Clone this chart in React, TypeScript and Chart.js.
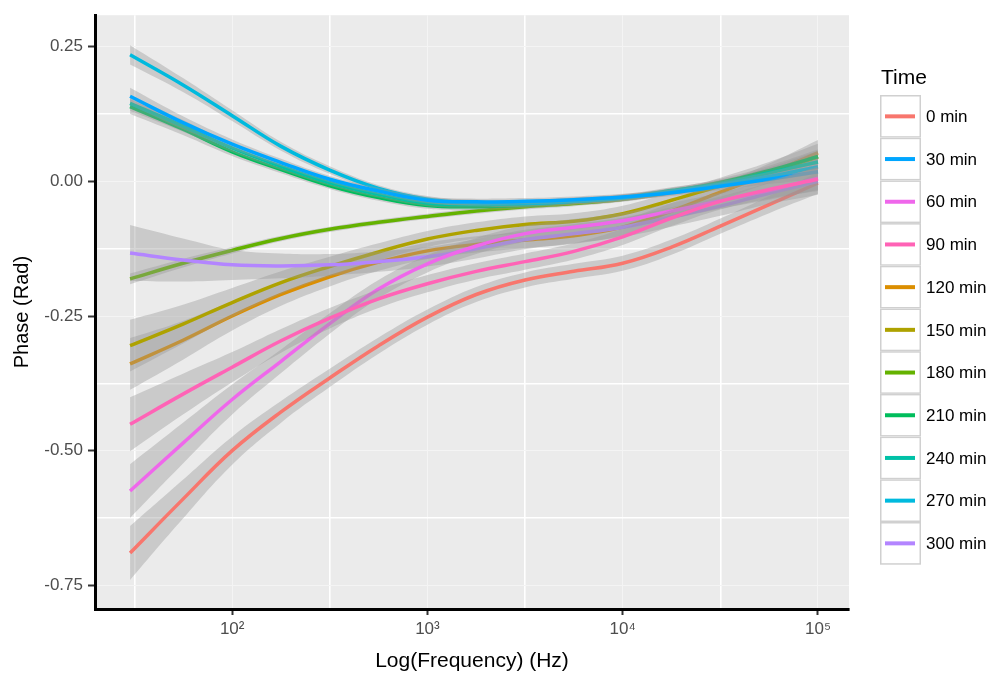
import React, { useEffect, useRef } from 'react';
import { Chart, registerables } from 'chart.js';

Chart.register(...registerables);

// ---- data ----
const freqHz = [30, 56, 100, 178, 316, 562, 1000, 1778, 3162, 5623, 10000, 17783, 31623, 56234, 100000];

const timeLabels = ['0 min', '30 min', '60 min', '90 min', '120 min', '150 min', '180 min', '210 min', '240 min', '270 min', '300 min'];
const seriesColors = ['#F8766D', '#00A6FF', '#EF67EB', '#FF63B6', '#DB8E00', '#AEA200', '#64B200', '#00BD5C', '#00C1A7', '#00BADE', '#B385FF'];
// ggplot draws groups in factor (alphabetical) order
const drawOrder = ['0 min', '120 min', '150 min', '180 min', '210 min', '240 min', '270 min', '30 min', '300 min', '60 min', '90 min'];

const phase0 = [-0.690, -0.590, -0.500, -0.428, -0.365, -0.305, -0.252, -0.210, -0.183, -0.167, -0.152, -0.122, -0.083, -0.043, -0.003];
const phase30 = [0.158, 0.109, 0.069, 0.035, 0.004, -0.018, -0.035, -0.038, -0.037, -0.034, -0.029, -0.021, -0.009, 0.004, 0.018];
const phase60 = [-0.575, -0.486, -0.405, -0.334, -0.264, -0.200, -0.153, -0.120, -0.097, -0.085, -0.073, -0.055, -0.036, -0.017, 0.006];
const phase90 = [-0.451, -0.395, -0.345, -0.296, -0.254, -0.218, -0.190, -0.167, -0.149, -0.130, -0.103, -0.068, -0.037, -0.015, 0.004];
const phase120 = [-0.339, -0.295, -0.250, -0.210, -0.177, -0.150, -0.129, -0.117, -0.109, -0.101, -0.085, -0.055, -0.020, 0.015, 0.053];
const phase150 = [-0.305, -0.265, -0.225, -0.188, -0.158, -0.131, -0.107, -0.091, -0.080, -0.074, -0.060, -0.035, -0.008, 0.018, 0.046];
const phase180 = [-0.181, -0.152, -0.128, -0.106, -0.089, -0.076, -0.065, -0.055, -0.047, -0.041, -0.033, -0.020, -0.004, 0.018, 0.045];
const phase210 = [0.139, 0.097, 0.055, 0.022, -0.008, -0.030, -0.045, -0.047, -0.044, -0.038, -0.031, -0.018, -0.002, 0.020, 0.046];
const phase240 = [0.145, 0.103, 0.062, 0.028, -0.002, -0.024, -0.040, -0.043, -0.041, -0.036, -0.030, -0.017, -0.004, 0.016, 0.036];
const phase270 = [0.235, 0.179, 0.122, 0.065, 0.021, -0.013, -0.033, -0.040, -0.041, -0.037, -0.031, -0.019, -0.006, 0.009, 0.027];
const phase300 = [-0.133, -0.146, -0.155, -0.157, -0.155, -0.149, -0.140, -0.125, -0.108, -0.097, -0.085, -0.066, -0.046, -0.022, 0.000];

// half-widths of the grey confidence ribbons
const band0 = [0.050, 0.036, 0.026, 0.020, 0.017, 0.015, 0.014, 0.014, 0.014, 0.014, 0.014, 0.014, 0.014, 0.016, 0.020];
const band30 = [0.016, 0.012, 0.009, 0.007, 0.006, 0.006, 0.006, 0.006, 0.006, 0.006, 0.006, 0.006, 0.007, 0.009, 0.013];
const band60 = [0.050, 0.038, 0.028, 0.022, 0.019, 0.017, 0.016, 0.015, 0.015, 0.015, 0.015, 0.015, 0.015, 0.017, 0.022];
const band90 = [0.050, 0.038, 0.028, 0.022, 0.019, 0.017, 0.016, 0.015, 0.015, 0.015, 0.015, 0.015, 0.015, 0.017, 0.022];
const band120 = [0.048, 0.036, 0.027, 0.021, 0.018, 0.016, 0.015, 0.015, 0.015, 0.015, 0.015, 0.015, 0.015, 0.018, 0.024];
const band150 = [0.048, 0.036, 0.027, 0.021, 0.018, 0.016, 0.015, 0.015, 0.015, 0.015, 0.015, 0.015, 0.015, 0.018, 0.024];
const band180 = [0.010, 0.008, 0.006, 0.005, 0.005, 0.005, 0.005, 0.005, 0.005, 0.005, 0.005, 0.005, 0.006, 0.008, 0.012];
const band210 = [0.014, 0.011, 0.008, 0.007, 0.006, 0.006, 0.006, 0.006, 0.006, 0.006, 0.006, 0.006, 0.007, 0.009, 0.013];
const band240 = [0.014, 0.011, 0.008, 0.007, 0.006, 0.006, 0.006, 0.006, 0.006, 0.006, 0.006, 0.006, 0.007, 0.009, 0.013];
const band270 = [0.018, 0.013, 0.010, 0.008, 0.007, 0.006, 0.006, 0.006, 0.006, 0.006, 0.006, 0.006, 0.007, 0.009, 0.013];
const band300 = [0.052, 0.040, 0.028, 0.023, 0.020, 0.019, 0.018, 0.018, 0.018, 0.018, 0.018, 0.018, 0.018, 0.020, 0.025];

const phaseSeries = [phase0, phase30, phase60, phase90, phase120, phase150, phase180, phase210, phase240, phase270, phase300];
const bandSeries = [band0, band30, band60, band90, band120, band150, band180, band210, band240, band270, band300];

const xTickValues = [31.6228, 100, 316.228, 1000, 3162.28, 10000, 31622.8, 100000];
const xTickLabels = ['', '10²', '', '10³', '', '10⁴', '', '10⁵'];
const yTickValues = [-0.75, -0.625, -0.5, -0.375, -0.25, -0.125, 0, 0.125, 0.25];
const yTickLabels = ['-0.75', '', '-0.50', '', '-0.25', '', '0.00', '', '0.25'];

const xTitle = 'Log(Frequency) (Hz)';
const yTitle = 'Phase (Rad)';
const legendTitle = 'Time';

const FONT = "'Liberation Sans', Arial, sans-serif";

const panelPlugin = {
  id: 'panelBg',
  beforeDraw(chart: any) {
    const { ctx, chartArea } = chart;
    ctx.save();
    ctx.fillStyle = '#EBEBEB';
    ctx.fillRect(chartArea.left, chartArea.top, chartArea.right - chartArea.left, chartArea.bottom - chartArea.top);
    ctx.restore();
  },
};

const legendPlugin = {
  id: 'ggLegend',
  afterDraw(chart: any) {
    const ctx = chart.ctx;
    ctx.save();
    ctx.fillStyle = '#000000';
    ctx.font = `21px ${FONT}`;
    ctx.textBaseline = 'alphabetic';
    ctx.textAlign = 'left';
    ctx.fillText(legendTitle, 881, 84);
    const top = 95;
    const h = 42.7;
    timeLabels.forEach((lab, i) => {
      const y0 = top + i * h;
      ctx.fillStyle = '#FFFFFF';
      ctx.fillRect(880, y0, 41, h);
      ctx.strokeStyle = '#D0D0D0';
      ctx.lineWidth = 1.5;
      ctx.strokeRect(880.75, y0 + 0.75, 39.5, h - 1.5);
      const cy = y0 + h / 2;
      ctx.strokeStyle = seriesColors[i];
      ctx.lineWidth = 4;
      ctx.beginPath();
      ctx.moveTo(885, cy);
      ctx.lineTo(915, cy);
      ctx.stroke();
      ctx.fillStyle = '#000000';
      ctx.font = `17px ${FONT}`;
      ctx.textBaseline = 'middle';
      ctx.fillText(lab, 926, cy + 1);
    });
    ctx.restore();
  },
};

function buildDatasets() {
  const ds: any[] = [];
  const n = drawOrder.length;
  drawOrder.forEach((label, k) => {
    const i = timeLabels.indexOf(label);
    const vals = phaseSeries[i];
    const se = bandSeries[i];
    const order = (n - k) * 10;
    const common = { pointRadius: 0, tension: 0.4 };
    ds.push({
      ...common,
      label: label + ' lower',
      data: freqHz.map((f, j) => ({ x: f, y: vals[j] - se[j] })),
      borderColor: 'rgba(0,0,0,0)',
      borderWidth: 0,
      fill: false,
      order: order + 2,
    });
    ds.push({
      ...common,
      label: label + ' upper',
      data: freqHz.map((f, j) => ({ x: f, y: vals[j] + se[j] })),
      borderColor: 'rgba(0,0,0,0)',
      borderWidth: 0,
      backgroundColor: 'rgba(153,153,153,0.4)',
      fill: '-1',
      order: order + 1,
    });
    ds.push({
      ...common,
      label,
      data: freqHz.map((f, j) => ({ x: f, y: vals[j] })),
      borderColor: seriesColors[i],
      backgroundColor: seriesColors[i],
      borderWidth: 3.5,
      fill: false,
      order,
    });
  });
  return ds;
}

const isDecade = (v: number) => Math.abs(Math.log10(v) - Math.round(Math.log10(v))) < 1e-6;
const isQuarter = (v: number) => Math.abs(v / 0.25 - Math.round(v / 0.25)) < 1e-6;

export default function App() {
  const canvasRef = useRef<HTMLCanvasElement | null>(null);

  useEffect(() => {
    document.body.style.margin = '0';
    const canvas = canvasRef.current;
    if (!canvas) return;
    const chart = new Chart(canvas, {
      type: 'line',
      data: { datasets: buildDatasets() },
      plugins: [panelPlugin, legendPlugin],
      options: {
        responsive: false,
        animation: false,
        layout: { padding: { top: 7, right: 149, left: 0, bottom: 0 } },
        plugins: {
          legend: { display: false },
          tooltip: { enabled: false },
        },
        scales: {
          x: {
            type: 'logarithmic',
            min: 19.84,
            max: 144200,
            afterBuildTicks: (scale: any) => {
              scale.ticks = xTickValues.map((v) => ({ value: v }));
            },
            afterFit: (scale: any) => {
              scale.height = 74;
            },
            ticks: {
              autoSkip: false,
              maxRotation: 0,
              padding: 4,
              color: '#4D4D4D',
              font: { family: FONT, size: 17 },
              callback: (_v: any, idx: number) => xTickLabels[idx],
            },
            grid: {
              color: (c: any) => (c.tick && isDecade(c.tick.value) ? '#F4F4F4' : '#FFFFFF'),
              lineWidth: (c: any) => (c.tick && isDecade(c.tick.value) ? 1 : 1.6),
              tickColor: (c: any) => (c.tick && isDecade(c.tick.value) ? '#333333' : 'rgba(0,0,0,0)'),
              tickWidth: 2,
              tickLength: 6,
            },
            border: { display: true, color: '#000000', width: 3 },
            title: {
              display: true,
              text: xTitle,
              color: '#000000',
              font: { family: FONT, size: 21 },
              padding: { top: 0, bottom: 9 },
            },
          },
          y: {
            type: 'linear',
            min: -0.794,
            max: 0.3086,
            afterBuildTicks: (scale: any) => {
              scale.ticks = yTickValues.map((v) => ({ value: v }));
            },
            afterFit: (scale: any) => {
              scale.width = 95;
            },
            ticks: {
              autoSkip: false,
              padding: 5,
              color: '#4D4D4D',
              font: { family: FONT, size: 17 },
              callback: (_v: any, idx: number) => yTickLabels[idx],
            },
            grid: {
              color: (c: any) => (c.tick && isQuarter(c.tick.value) ? '#F4F4F4' : '#FFFFFF'),
              lineWidth: (c: any) => (c.tick && isQuarter(c.tick.value) ? 1 : 1.6),
              tickColor: (c: any) => (c.tick && isQuarter(c.tick.value) ? '#333333' : 'rgba(0,0,0,0)'),
              tickWidth: 2,
              tickLength: 7,
            },
            border: { display: true, color: '#000000', width: 3 },
            title: {
              display: true,
              text: yTitle,
              color: '#000000',
              font: { family: FONT, size: 20 },
              padding: { top: 10, bottom: 0 },
            },
          },
        },
      } as any,
    });
    return () => chart.destroy();
  }, []);

  return (
    <div style={{ width: 998, height: 683, overflow: 'hidden', background: '#FFFFFF' }}>
      <canvas ref={canvasRef} width={998} height={683} style={{ display: 'block' }} />
    </div>
  );
}
